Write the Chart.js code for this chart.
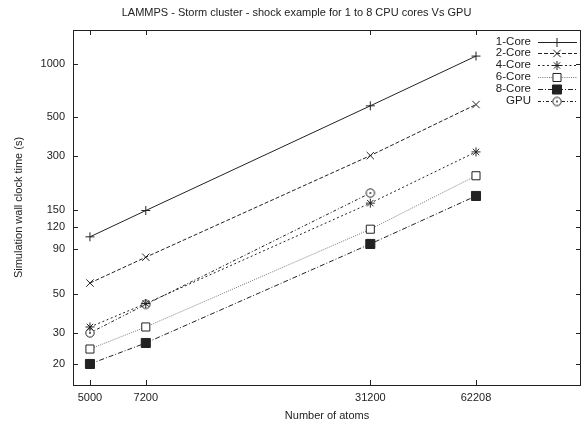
<!DOCTYPE html>
<html>
<head>
<meta charset="utf-8">
<script src="https://cdn.jsdelivr.net/npm/chart.js@4/dist/chart.umd.min.js"></script>
<style>
  html, body { margin: 0; padding: 0; background: #fff; }
  #chart { display: block; }
</style>
</head>
<body>
<canvas id="chart" width="582" height="424"></canvas>
<script>
// atoms on the x axis (log), wall clock time in seconds on y (log)
const atoms = [5000, 7200, 31200, 62208];
const core1 = [105, 148, 580, 1110];
const core2 = [57.5, 80.5, 303, 590];
const core4 = [32.4, 44, 163, 318];
const core6 = [24.3, 32.4, 116, 233];
const core8 = [20, 26.3, 95.7, 179];
const gpu = [30, 43.5, 186];

const xTicks = [5000, 7200, 31200, 62208];
const yTicks = [20, 30, 50, 90, 120, 150, 300, 500, 1000];

const FONT = "'Liberation Sans', Arial, sans-serif";
const TXT = '#222';

// circle with a dot, like gnuplot's GPU marker
function dotCircle() {
    const c = document.createElement('canvas');
    c.width = 12; c.height = 12;
    const g = c.getContext('2d');
    g.fillStyle = '#fff';
    g.strokeStyle = '#222';
    g.lineWidth = 1;
    g.beginPath(); g.arc(6, 6, 4.2, 0, Math.PI * 2); g.fill(); g.stroke();
    g.fillStyle = '#222';
    g.beginPath(); g.arc(6, 6, 0.9, 0, Math.PI * 2); g.fill();
    return c;
}

function series(label, vals, dash, style, radius, fill, color) {
    return {
        label,
        data: vals.map((v, i) => ({ x: atoms[i], y: v })),
        borderColor: color || '#222',
        borderWidth: 1,
        borderDash: dash,
        pointStyle: style,
        pointRadius: radius,
        pointBorderColor: '#222',
        pointBackgroundColor: fill,
        pointBorderWidth: 1,
        fill: false,
        tension: 0
    };
}

const datasets = [
    series('1-Core', core1, [], 'cross', 4.5, '#222'),
    series('2-Core', core2, [4, 2], 'crossRot', 5.2, '#222'),
    series('4-Core', core4, [2, 2.5], 'star', 4.5, '#222'),
    series('6-Core', core6, [1, 1.2], 'rect', 5.7, '#fff', '#777'),
    series('8-Core', core8, [5, 2, 1, 2], 'rect', 6.4, '#222'),
    series('GPU', gpu, [3, 2, 1, 2], dotCircle(), 5, '#fff')
];

// gnuplot style frame, ticks pointing inwards, legend in the top right
const framePlugin = {
    id: 'frame',
    afterDatasetsDraw(chart) {
        const { ctx, chartArea: a, scales: { x, y } } = chart;
        ctx.save();
        ctx.strokeStyle = '#222';
        ctx.lineWidth = 1;
        ctx.setLineDash([]);
        ctx.strokeRect(a.left + 0.5, a.top + 0.5, a.right - a.left - 1, a.bottom - a.top);
        ctx.beginPath();
        xTicks.forEach(v => {
            const px = Math.round(x.getPixelForValue(v)) + 0.5;
            ctx.moveTo(px, a.bottom); ctx.lineTo(px, a.bottom - 5);
            ctx.moveTo(px, a.top); ctx.lineTo(px, a.top + 5);
        });
        yTicks.forEach(v => {
            const py = Math.round(y.getPixelForValue(v)) + 0.5;
            ctx.moveTo(a.left, py); ctx.lineTo(a.left + 5, py);
            ctx.moveTo(a.right, py); ctx.lineTo(a.right - 5, py);
        });
        ctx.stroke();

        // legend
        ctx.font = '11.5px ' + FONT;
        ctx.textAlign = 'right';
        ctx.textBaseline = 'middle';
        chart.data.datasets.forEach((ds, i) => {
            const ly = a.top + 11.5 + i * 11.8;
            ctx.fillStyle = TXT;
            ctx.fillText(ds.label, 531, ly);
            ctx.strokeStyle = ds.borderColor;
            ctx.setLineDash(ds.borderDash);
            ctx.beginPath();
            ctx.moveTo(538, Math.round(ly) + 0.5);
            ctx.lineTo(577, Math.round(ly) + 0.5);
            ctx.stroke();
            ctx.setLineDash([]);
            ctx.strokeStyle = ds.pointBorderColor;
            ctx.fillStyle = ds.pointBackgroundColor;
            ctx.lineWidth = 1;
            Chart.helpers.drawPoint(ctx, {
                pointStyle: ds.pointStyle, radius: ds.pointRadius, rotation: 0, borderWidth: 1
            }, 557, Math.round(ly) + 0.5);
        });
        ctx.restore();
    }
};

new Chart(document.getElementById('chart'), {
    type: 'line',
    data: { datasets },
    options: {
        responsive: false,
        animation: false,
        layout: { autoPadding: false, padding: { left: 12, right: 1, top: 0, bottom: 0 } },
        plugins: {
            legend: { display: false },
            tooltip: { enabled: false },
            title: {
                display: true,
                text: 'LAMMPS - Storm cluster - shock example for 1 to 8 CPU cores Vs GPU',
                color: TXT,
                font: { family: FONT, size: 11, weight: 'normal' },
                padding: { top: 6.4, bottom: 10.4 }
            }
        },
        scales: {
            x: {
                type: 'logarithmic',
                min: 4476,
                max: 123500,
                afterBuildTicks: s => { s.ticks = xTicks.map(v => ({ value: v })); },
                afterFit: s => { s.height = 39; },
                grid: { display: false, drawTicks: false },
                border: { display: false },
                ticks: {
                    color: TXT, padding: 6, maxRotation: 0, autoSkip: false,
                    font: { family: FONT, size: 11 },
                    callback: v => String(v)
                },
                title: {
                    display: true, text: 'Number of atoms', color: TXT,
                    font: { family: FONT, size: 11 },
                    padding: { top: 0, bottom: 1 }
                }
            },
            y: {
                type: 'logarithmic',
                min: 15.2,
                max: 1560,
                afterBuildTicks: s => { s.ticks = yTicks.map(v => ({ value: v })); },
                afterFit: s => { s.width = 61; },
                grid: { display: false, drawTicks: false },
                border: { display: false },
                ticks: {
                    color: TXT, padding: 8, autoSkip: false,
                    font: { family: FONT, size: 11 },
                    callback: v => String(v)
                },
                title: {
                    display: true, text: 'Simulation wall clock time (s)', color: TXT,
                    font: { family: FONT, size: 11 },
                    padding: { top: 0, bottom: 0 }
                }
            }
        }
    },
    plugins: [framePlugin]
});
</script>
</body>
</html>
